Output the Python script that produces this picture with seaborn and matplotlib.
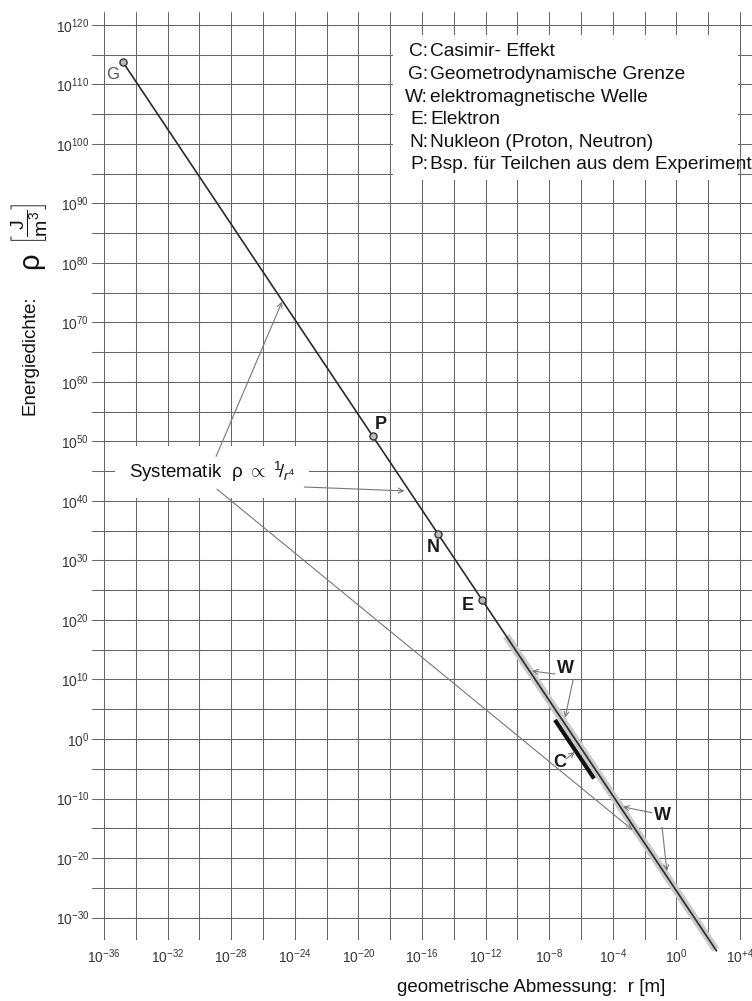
import matplotlib
matplotlib.use("Agg")
import matplotlib.pyplot as plt
import seaborn as sns
import pandas as pd
from matplotlib.patches import Rectangle

# Hauptlinie rho ~ 1/r^4 (Endpunkte)
line_r = [1.6e-35, 3.5e2]
line_rho = [5.0e113, 2.0e-36]

# W: elektromagnetische Welle (grauer Streifen)
w_r = [2.0e-11, 3.0e2]
w_rho = [2.0e17, 3.9e-36]

# C: Casimir-Effekt (kurzes dickes Stueck)
c_r = [2.3e-8, 6.6e-6]
c_rho = [1.6e3, 2.3e-7]

# markierte Punkte
pt_names = ["G", "P", "N", "E"]
pt_r = [1.6e-35, 8e-20, 1e-15, 6e-13]
pt_rho = [5.0e113, 8e50, 3.2e34, 2.4e23]

x_major = list(range(-36, 5, 4))
x_minor = list(range(-34, 5, 4))
y_major = list(range(-30, 121, 10))
y_minor = list(range(-25, 121, 10))

legend_keys = ["C", "G", "W", "E", "N", "P"]
legend_text = ["Casimir- Effekt", "Geometrodynamische Grenze", "elektromagnetische Welle",
               "Elektron", "Nukleon (Proton, Neutron)", "Bsp. für Teilchen aus dem Experiment"]

sns.set_theme(style="white")
plt.rcParams["font.family"] = ["Liberation Sans", "DejaVu Sans"]
plt.rcParams["mathtext.fontset"] = "custom"
plt.rcParams["mathtext.rm"] = "Liberation Sans"
plt.rcParams["mathtext.it"] = "Liberation Sans:italic"
plt.rcParams["mathtext.bf"] = "Liberation Sans:bold"

W, H = 752, 1001
fig = plt.figure(figsize=(W / 100, H / 100), dpi=100)
ax = fig.add_axes([92 / W, (H - 940) / H, 660 / W, 928 / H])
ax.set_xscale("log")
ax.set_yscale("log")
ax.set_xlim(10 ** -36.755, 10 ** 4.755)
ax.set_ylim(10 ** -33.78, 10 ** 122.18)

# Gitter
ax.set_xticks([10.0 ** e for e in x_major])
ax.set_xticklabels([r"$\mathregular{10^{%s}}$" % ("+4" if e == 4 else e) for e in x_major])
ax.set_xticks([10.0 ** e for e in x_minor], minor=True)
ax.set_yticks([10.0 ** e for e in y_major])
ax.set_yticklabels([r"$\mathregular{10^{%d}}$" % e for e in y_major])
ax.set_yticks([10.0 ** e for e in y_minor], minor=True)
ax.xaxis.set_minor_formatter(matplotlib.ticker.NullFormatter())
ax.yaxis.set_minor_formatter(matplotlib.ticker.NullFormatter())
ax.tick_params(which="both", length=0, labelsize=10, labelcolor="#333333")
ax.tick_params(axis="x", pad=5)
ax.tick_params(axis="y", pad=2)
ax.grid(which="both", color="#666666", lw=0.75)
for s in ax.spines.values():
    s.set_visible(False)

# Linien
df_w = pd.DataFrame({"r": w_r, "rho": w_rho})
sns.lineplot(data=df_w, x="r", y="rho", ax=ax, color="#cacaca", lw=5.5, sort=False, zorder=3)
df_line = pd.DataFrame({"r": line_r, "rho": line_rho})
sns.lineplot(data=df_line, x="r", y="rho", ax=ax, color="#2a2a2a", lw=1.2, sort=False, zorder=4)
df_c = pd.DataFrame({"r": c_r, "rho": c_rho})
sns.lineplot(data=df_c, x="r", y="rho", ax=ax, color="#111111", lw=3, sort=False, zorder=4)
for ln in ax.lines:
    ln.set_clip_on(False)
    ln.set_solid_capstyle("butt")

df_pt = pd.DataFrame({"r": pt_r, "rho": pt_rho, "name": pt_names})
sns.scatterplot(data=df_pt, x="r", y="rho", ax=ax, s=26, color="#bbbbbb",
                edgecolor="#333333", linewidth=1.0, zorder=5)

# Beschriftungen der Punkte
ax.text(10 ** -35.43, 10 ** 111.6, "G", color="#555555", fontsize=12, ha="center", va="center")
bold_labels = [("P", -18.6, 52.8), ("N", -15.3, 32.1), ("E", -13.1, 22.5),
               ("W", -7.0, 11.9), ("C", -7.32, -3.87), ("W", -0.9, -12.8)]
for t, lx, ly in bold_labels:
    ax.text(10 ** lx, 10 ** ly, t, fontsize=13, fontweight="bold", color="#1a1a1a",
            ha="center", va="center", zorder=6)

arrows = [((-7.64, 10.92), (-9.08, 11.43)), ((-6.5, 9.9), (-7.0, 3.6)),
          ((-6.94, -3.36), (-6.38, -2.18)),
          ((-1.53, -12.4), (-3.36, -11.4)), ((-0.9, -14.8), (-0.6, -22.2)),
          ((-23.4, 42.35), (-17.1, 41.7)),
          ((-28.95, 47.5), (-24.8, 73.5)),
          ((-28.9, 42.0), (-2.75, -15.3))]
for (x0, y0), (x1, y1) in arrows:
    ax.annotate("", xy=(10 ** x1, 10 ** y1), xytext=(10 ** x0, 10 ** y0),
                arrowprops=dict(arrowstyle="->", color="#777777", lw=0.8,
                                shrinkA=0, shrinkB=0, mutation_scale=9), zorder=5)

ax.text(10 ** -29.2, 10 ** 44.9, r"Systematik  $\mathrm{\rho}\ \propto\ {}^{1}\!/_{r^{4}}$",
        fontsize=13.5, color="#111111", ha="center", va="center", zorder=4,
        bbox=dict(boxstyle="square,pad=0.75", fc="white", ec="none"))

# Legende oben rechts
fx = lambda px: (px - 92) / 660
fy = lambda py: (940 - py) / 928
ax.add_patch(Rectangle((fx(393), fy(180)), fx(738) - fx(393), fy(35) - fy(180),
                       transform=ax.transAxes, fc="white", ec="none", zorder=3))
for i, (k, t) in enumerate(zip(legend_keys, legend_text)):
    yy = fy(52 + 22.6 * i)
    ax.text(fx(428), yy, k + ":", transform=ax.transAxes, fontsize=13.8,
            ha="right", va="center", color="#111111", zorder=4)
    ax.text(fx(430), yy, t, transform=ax.transAxes, fontsize=13.8,
            ha="left", va="center", color="#111111", zorder=4)

# Achsenbeschriftungen
ax.set_ylabel("")
ax.set_xlabel("geometrische Abmessung:  r [m]", fontsize=13.5, color="#111111")
ax.xaxis.set_label_coords(fx(531), fy(987))
ax.xaxis.label.set_va("center")
ylab = dict(transform=ax.transAxes, rotation=90, rotation_mode="anchor",
            ha="center", va="center", color="#111111")
ax.text(fx(30), fy(355), "Energiedichte:", fontsize=13.5, **ylab)
ax.text(fx(30), fy(261), "ρ", fontsize=21, **ylab)
ax.text(fx(29), fy(224), r"$\left[\dfrac{\mathrm{J}}{\mathrm{m}^3}\right]$", fontsize=14, **ylab)

fig.savefig("out.png", dpi=100)
